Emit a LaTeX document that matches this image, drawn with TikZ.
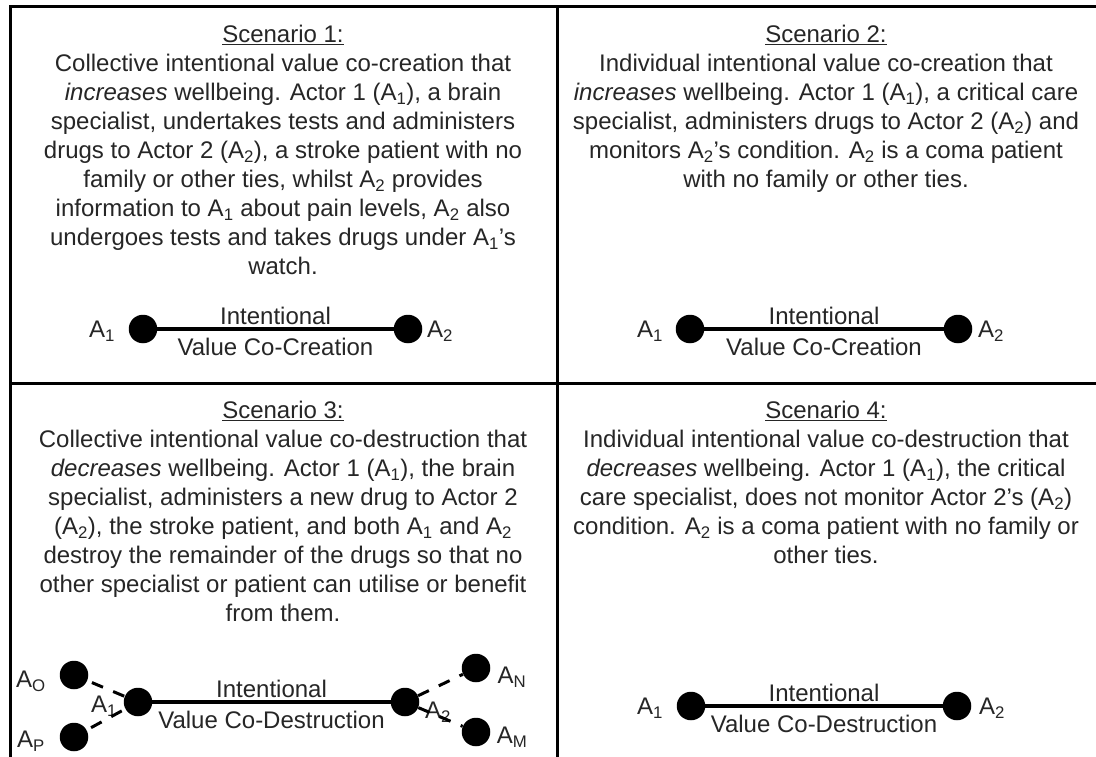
\documentclass[tikz,border=0pt]{standalone}
\usepackage{fontspec}
\setmainfont{Liberation Sans}
\definecolor{txt}{HTML}{262626}
\newcommand{\Asub}[1]{A\textsubscript{#1}}
\begin{document}
\begin{tikzpicture}[x=1pt,y=-1pt,
  frame/.style={line width=3pt, black},
  para/.style={align=center, inner sep=0pt, anchor=north, text=txt, font=\fontsize{24}{29}\selectfont},
  dot/.style={circle, fill=black, minimum size=28.5pt, inner sep=0pt},
  lab/.style={text=txt, font=\fontsize{24}{28}\selectfont, inner sep=0pt},
  link/.style={line width=4pt},
  weak/.style={line width=3pt, dash pattern=on 12pt off 11pt},
  weakin/.style={weak, dash phase=18pt}
]
\useasboundingbox (0,0) rectangle (1096,757);
\fill[white] (0,0) rectangle (1096,757);

% frame
\draw[frame] (1096,7) -- (10,7) -- (10,757);
\draw[frame] (557,7) -- (557,757);
\draw[frame] (10,383) -- (1096,383);

% texts
\node[para] (t1) at (283,25) {\underline{Scenario 1:}\\
Collective intentional value co-creation that\\
\textit{increases} wellbeing. Actor 1 (\Asub{1}), a brain\\
specialist, undertakes tests and administers\\
drugs to Actor 2 (\Asub{2}), a stroke patient with no\\
family or other ties, whilst \Asub{2} provides\\
information to \Asub{1} about pain levels, \Asub{2} also\\
undergoes tests and takes drugs under \Asub{1}’s\\
watch.};

\node[para] (t2) at (826,25) {\underline{Scenario 2:}\\
Individual intentional value co-creation that\\
\textit{increases} wellbeing. Actor 1 (\Asub{1}), a critical care\\
specialist, administers drugs to Actor 2 (\Asub{2}) and\\
monitors \Asub{2}’s condition. \Asub{2} is a coma patient\\
with no family or other ties.};

\node[para] (t3) at (283,401) {\underline{Scenario 3:}\\
Collective intentional value co-destruction that\\
\textit{decreases} wellbeing. Actor 1 (\Asub{1}), the brain\\
specialist, administers a new drug to Actor 2\\
(\Asub{2}), the stroke patient, and both \Asub{1} and \Asub{2}\\
destroy the remainder of the drugs so that no\\
other specialist or patient can utilise or benefit\\
from them.};

\node[para] (t4) at (826,401) {\underline{Scenario 4:}\\
Individual intentional value co-destruction that\\
\textit{decreases} wellbeing. Actor 1 (\Asub{1}), the critical\\
care specialist, does not monitor Actor 2’s (\Asub{2})\\
condition. \Asub{2} is a coma patient with no family or\\
other ties.};

% scenario 1 diagram
\node[dot] (s1a) at (143,329) {};
\node[dot] (s1b) at (408,329) {};
\node[lab] (s1la) at (102,331) {\Asub{1}};
\node[lab] (s1lb) at (440,331) {\Asub{2}};
\draw[link] (s1a) -- (s1b)
  node[midway, above=2.5pt, lab] (s1t) {Intentional}
  node[midway, below=7pt, lab] (s1v) {Value Co-Creation};

% scenario 2 diagram
\node[dot] (s2a) at (690,329) {};
\node[dot] (s2b) at (958,329) {};
\node[lab] (s2la) at (650,331) {\Asub{1}};
\node[lab] (s2lb) at (991,331) {\Asub{2}};
\draw[link] (s2a) -- (s2b)
  node[midway, above=2.5pt, lab] (s2t) {Intentional}
  node[midway, below=7pt, lab] (s2v) {Value Co-Creation};

% scenario 3 diagram
\node[dot] (s3o) at (74,675) {};
\node[dot] (s3p) at (74,737) {};
\node[dot] (s3a) at (138,702) {};
\node[dot] (s3b) at (405,702) {};
\node[dot] (s3n) at (476,668) {};
\node[dot] (s3m) at (476,732) {};
\node[lab] (s3lo) at (31,681) {\Asub{O}};
\node[lab] (s3lp) at (31,741) {\Asub{P}};
\node[lab] (s3la) at (104,706) {\Asub{1}};
\node[lab] (s3lb) at (438,712) {\Asub{2}};
\node[lab] (s3ln) at (512,677) {\Asub{N}};
\node[lab] (s3lm) at (512,737) {\Asub{M}};
\draw[weakin] (s3o) -- (s3a);
\draw[weakin] (s3p) -- (s3a);
\draw[weak] (s3b) -- (s3n);
\draw[weak] (s3b) -- (s3m);
\draw[link] (s3a) -- (s3b)
  node[midway, above=2.5pt, lab] (s3t) {Intentional}
  node[midway, below=7pt, lab] (s3v) {Value Co-Destruction};

% scenario 4 diagram
\node[dot] (s4a) at (691,706) {};
\node[dot] (s4b) at (957,706) {};
\node[lab] (s4la) at (650,708) {\Asub{1}};
\node[lab] (s4lb) at (992,708) {\Asub{2}};
\draw[link] (s4a) -- (s4b)
  node[midway, above=2.5pt, lab] (s4t) {Intentional}
  node[midway, below=7pt, lab] (s4v) {Value Co-Destruction};
\end{tikzpicture}
\end{document}
